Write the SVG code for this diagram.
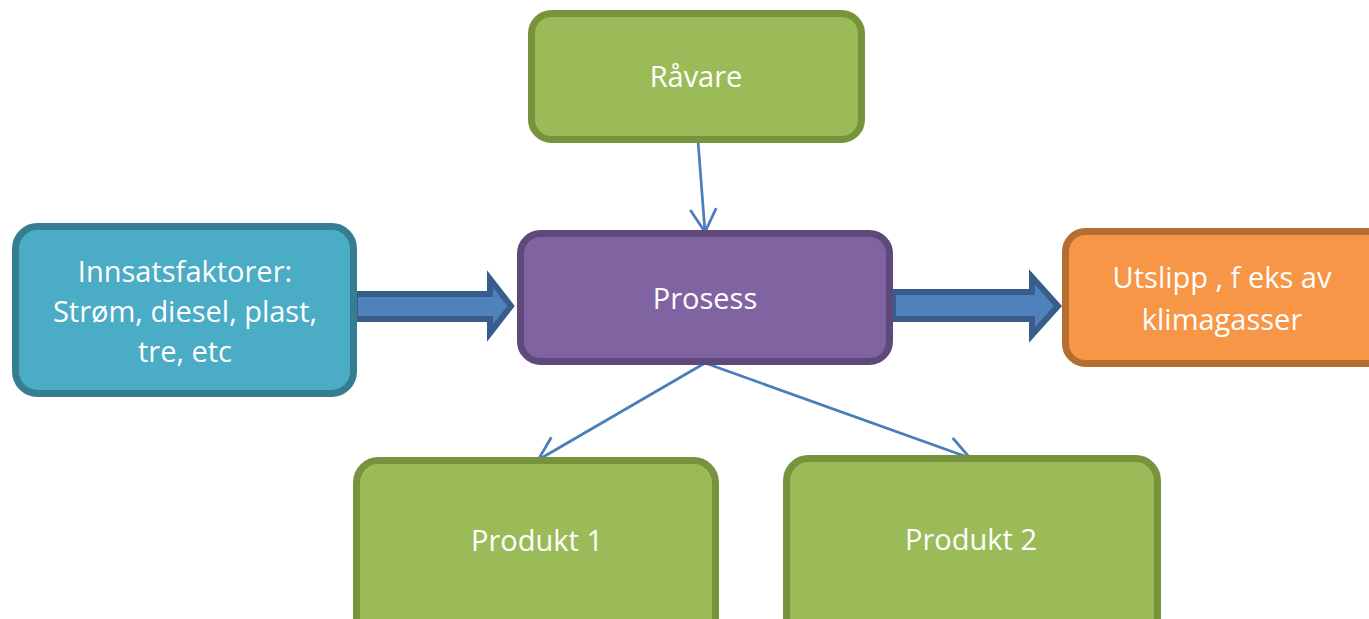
<svg xmlns="http://www.w3.org/2000/svg" width="1369" height="619" viewBox="0 0 1369 619">
<style>
.box{stroke-width:7}
.green{fill:#9bbb59;stroke:#77933c}
.purple{fill:#8064a2;stroke:#5f497a}
.blue{fill:#4bacc6;stroke:#357d91}
.orange{fill:#f79646;stroke:#b66d31}
.lbl{font-family:"Open Sans","Liberation Sans",sans-serif;font-size:29px;fill:#ffffff;text-anchor:middle}
.thin{stroke:#4a7ebb;stroke-width:2.75;fill:none}
.block{fill:#4f81bd;stroke:#385d8a;stroke-width:6;stroke-linejoin:miter}
</style>
<defs>
<marker id="vhead" viewBox="0 0 28 32" refX="26" refY="16" markerWidth="28" markerHeight="32" markerUnits="userSpaceOnUse" orient="auto">
<path d="M3,3 L26,16 L3,29" fill="none" stroke="#4a7ebb" stroke-width="2.75"/>
</marker>
</defs>
<g id="connectors">
<path class="block" d="M355,294 L490,294 L490,279 L511,306 L490,333 L490,319 L355,319 Z"/>
<path class="block" d="M893,292 L1032,292 L1032,277 L1058,306 L1032,335 L1032,319 L893,319 Z"/>
<line class="thin" x1="698" y1="141" x2="705" y2="232" marker-end="url(#vhead)"/>
<line class="thin" x1="705" y1="363" x2="538" y2="460" marker-end="url(#vhead)"/>
<line class="thin" x1="705" y1="363" x2="970" y2="458" marker-end="url(#vhead)"/>
</g>
<g id="raavare">
<rect class="box green" x="531.5" y="13.5" width="330" height="126" rx="20"/>
<text class="lbl" x="696" y="87">Råvare</text>
</g>
<g id="prosess">
<rect class="box purple" x="520.5" y="233.5" width="369" height="128" rx="20"/>
<text class="lbl" x="705" y="309">Prosess</text>
</g>
<g id="innsatsfaktorer">
<rect class="box blue" x="15.5" y="226.5" width="338" height="167" rx="22"/>
<text class="lbl" x="185" y="282">Innsatsfaktorer:</text>
<text class="lbl" x="185" y="322">Strøm, diesel, plast,</text>
<text class="lbl" x="185" y="362">tre, etc</text>
</g>
<g id="utslipp">
<rect class="box orange" x="1065.5" y="231.5" width="330" height="132" rx="20"/>
<text class="lbl" x="1222" y="288">Utslipp , f eks av</text>
<text class="lbl" x="1222" y="330">klimagasser</text>
</g>
<g id="produkt1">
<rect class="box green" x="356.5" y="460.5" width="359" height="190" rx="22"/>
<text class="lbl" x="537" y="551">Produkt 1</text>
</g>
<g id="produkt2">
<rect class="box green" x="786.5" y="458.5" width="371" height="190" rx="22"/>
<text class="lbl" x="971" y="550">Produkt 2</text>
</g>
</svg>
